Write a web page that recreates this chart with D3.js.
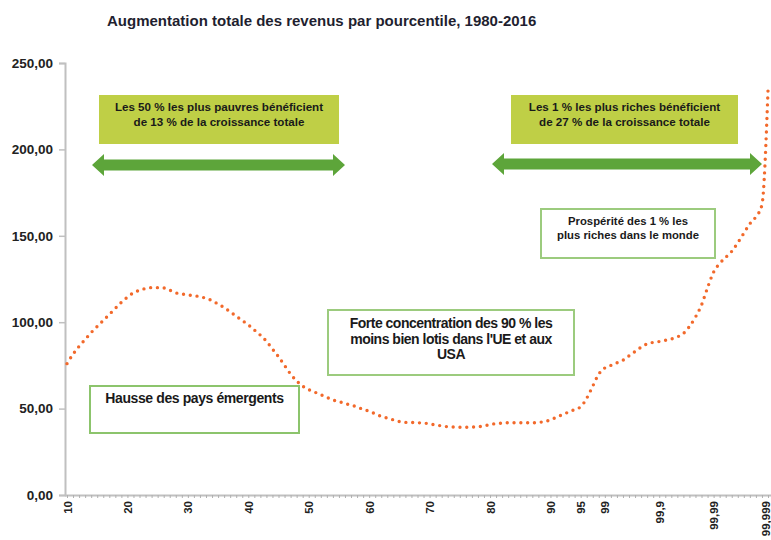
<!DOCTYPE html>
<html>
<head>
<meta charset="utf-8">
<script src="https://cdn.jsdelivr.net/npm/d3@7"></script>
<style>
  body { margin: 0; background: #fff; }
  svg { font-family: "Liberation Sans", Arial, sans-serif; }
</style>
</head>
<body>
<div id="chart"></div>
<script>
// percentile categories (x axis)
var categories = [
  "10","11","12","13","14","15","16","17","18","19",
  "20","21","22","23","24","25","26","27","28","29",
  "30","31","32","33","34","35","36","37","38","39",
  "40","41","42","43","44","45","46","47","48","49",
  "50","51","52","53","54","55","56","57","58","59",
  "60","61","62","63","64","65","66","67","68","69",
  "70","71","72","73","74","75","76","77","78","79",
  "80","81","82","83","84","85","86","87","88","89",
  "90","91","92","93","94","95","96","97","98","99",
  "99,1","99,2","99,3","99,4","99,5","99,6","99,7","99,8","99,9",
  "99,91","99,92","99,93","99,94","99,95","99,96","99,97","99,98","99,99",
  "99,991","99,992","99,993","99,994","99,995","99,996","99,997","99,998","99,999"
];

// total income growth 1980-2016 (%)
var growth = [
  76, 81.5, 86, 90, 94, 97.5, 101, 104.5, 108, 111.5,
  114.5, 117, 118.5, 119.5, 120, 120, 119.8, 118.5, 117, 116.3,
  115.8, 115.3, 114.8, 113.8, 112.5, 110.5, 108.5, 106, 103.5, 101,
  98.5, 95.5, 92.5, 89, 84.5, 80, 75, 70, 66, 63,
  61, 59.5, 58, 56.5, 55, 54, 53, 52, 51, 49.5,
  48.5, 47, 45.5, 44.5, 43.5, 42.5, 42, 42, 41.8, 41.6,
  41.2, 40.5, 40, 39.5, 39.3, 39.2, 39.2, 39.3, 39.5, 40,
  40.8, 41.3, 41.6, 41.8, 41.8, 41.8, 41.8, 41.8, 42, 42.5,
  43.5, 45, 46.5, 48, 49.5, 51, 56, 63, 70, 73.5,
  75, 76.5, 78, 80.5, 83, 85.5, 87.5, 88.3, 88.8,
  89.5, 90.3, 91.5, 93.5, 97.5, 103, 110, 120, 129,
  134, 137.5, 141, 146, 151.5, 157, 161, 168, 234
];

var xTickLabels = ["10","20","30","40","50","60","70","80","90","95","99","99,9","99,99","99,999"];
var yTicks = [0, 50, 100, 150, 200, 250];

var titleText = "Augmentation totale des revenus par pourcentile, 1980-2016";

var noteBottom50 = ["Les 50 % les plus pauvres bénéficient", "de 13 % de la croissance  totale"];
var noteTop1 = ["Les 1 % les plus riches bénéficient", "de 27 % de la croissance totale"];
var noteProsperity = ["Prospérité des 1 % les", "plus riches dans le monde"];
var noteMiddle = ["Forte concentration des 90 % les", "moins bien lotis dans l'UE et aux", "USA"];
var noteEmerging = ["Hausse des pays émergents"];

var svgWidth = 771;
var svgHeight = 540;

var svg = d3.select("#chart").append("svg")
    .attr("width", svgWidth)
    .attr("height", svgHeight);

// scales
var xScale = d3.scalePoint()
    .domain(categories)
    .range([67, 768]);

var yScale = d3.scaleLinear()
    .domain([0, 250])
    .range([495, 63]);

// title
svg.append("text")
    .attr("x", 107)
    .attr("y", 26)
    .attr("font-size", 15)
    .attr("font-weight", "bold")
    .attr("fill", "#1f1f30")
    .text(titleText);

// y axis
var yAxis = svg.append("g")
    .attr("transform", "translate(65,0)")
    .call(d3.axisLeft(yScale)
        .tickValues(yTicks)
        .tickSize(6)
        .tickPadding(6)
        .tickFormat(d => d3.format(".2f")(d).replace(".", ",")));

yAxis.select(".domain").attr("stroke", "#c0c0c0").attr("stroke-width", 2);
yAxis.selectAll(".tick line").attr("stroke", "#c0c0c0").attr("stroke-width", 1.5);
yAxis.selectAll(".tick text")
    .attr("font-size", 13.5)
    .attr("font-weight", "bold")
    .attr("font-family", "Liberation Sans, Arial, sans-serif")
    .attr("fill", "#222");

// x axis
var xAxis = svg.append("g")
    .attr("transform", "translate(0,495)")
    .call(d3.axisBottom(xScale)
        .tickSize(3)
        .tickSizeOuter(0)
        .tickFormat(d => xTickLabels.indexOf(d) >= 0 ? d : ""));

xAxis.select(".domain")
    .attr("d", "M65,0.5H771")
    .attr("stroke", "#c0c0c0")
    .attr("stroke-width", 2);
xAxis.selectAll(".tick line").attr("stroke", "#b0b0b0").attr("stroke-width", 1);
xAxis.selectAll(".tick text")
    .attr("font-size", 11.5)
    .attr("font-weight", "bold")
    .attr("font-family", "Liberation Sans, Arial, sans-serif")
    .attr("fill", "#222")
    .attr("text-anchor", "end")
    .attr("transform", "rotate(-90)")
    .attr("x", -6)
    .attr("y", d => d === "99,999" ? -3 : 0)
    .attr("dy", "0.35em");

// dotted growth curve
var line = d3.line()
    .x((d, i) => xScale(categories[i]))
    .y(d => yScale(d))
    .curve(d3.curveMonotoneX);

svg.append("path")
    .datum(growth)
    .attr("d", line)
    .attr("fill", "none")
    .attr("stroke", "#f2692b")
    .attr("stroke-width", 3.4)
    .attr("stroke-linecap", "round")
    .attr("stroke-dasharray", "0 6.8");

// annotation helpers
function noteBox(x, y, w, h, lines, opts) {
    var g = svg.append("g");
    g.append("rect")
        .attr("x", x).attr("y", y)
        .attr("width", w).attr("height", h)
        .attr("fill", opts.fill)
        .attr("stroke", opts.stroke)
        .attr("stroke-width", opts.strokeWidth);
    g.selectAll("text")
        .data(lines)
        .enter()
        .append("text")
        .attr("x", x + w / 2 + (opts.dx || 0))
        .attr("y", (d, i) => y + opts.firstLine + i * opts.lineGap)
        .attr("text-anchor", "middle")
        .attr("dominant-baseline", "middle")
        .attr("font-size", opts.fontSize)
        .attr("font-weight", "bold")
        .attr("letter-spacing", opts.spacing || 0)
        .attr("fill", "#1a1a1a")
        .text(d => d);
}

function doubleArrow(x1, x2, cy) {
    var shaft = 5.5, head = 11, headLen = 12;
    var pts = [
        [x1, cy],
        [x1 + headLen, cy - head],
        [x1 + headLen, cy - shaft],
        [x2 - headLen, cy - shaft],
        [x2 - headLen, cy - head],
        [x2, cy],
        [x2 - headLen, cy + head],
        [x2 - headLen, cy + shaft],
        [x1 + headLen, cy + shaft],
        [x1 + headLen, cy + head]
    ];
    svg.append("path")
        .attr("d", d3.line()(pts) + "Z")
        .attr("fill", "#5da53a");
}

var olive = { fill: "#bfcf46", stroke: "none", strokeWidth: 0, fontSize: 11.6, firstLine: 13, lineGap: 14.5 };
var framed = { fill: "#fff", stroke: "#9ccb7e", strokeWidth: 2, fontSize: 11.3, firstLine: 13, lineGap: 14 };

noteBox(99, 95, 240, 49, noteBottom50, olive);
noteBox(511, 95, 227, 49, noteTop1, olive);
doubleArrow(92, 345, 165);
doubleArrow(492, 762, 164);

noteBox(541, 209, 174, 49, noteProsperity, framed);
noteBox(328, 310, 246, 65, noteMiddle,
    { fill: "#fff", stroke: "#9ccb7e", strokeWidth: 2, fontSize: 14, firstLine: 14.5, lineGap: 15.5, spacing: -0.5 });
noteBox(90, 386, 209, 47, noteEmerging,
    { fill: "#fff", stroke: "#8cc46c", strokeWidth: 2, fontSize: 14, firstLine: 13, lineGap: 15, spacing: -0.4 });
</script>
</body>
</html>
